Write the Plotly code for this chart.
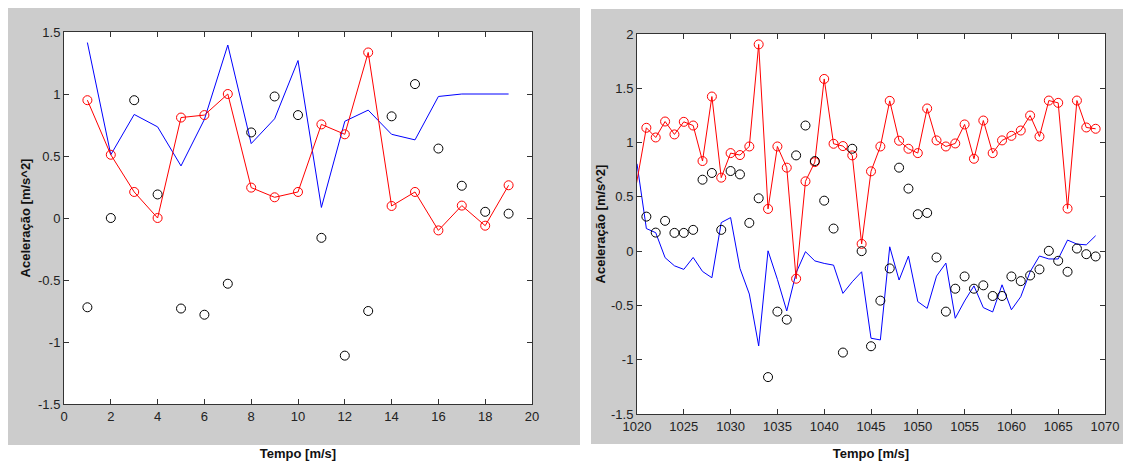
import plotly.graph_objects as go

# ---------------- data: left panel ----------------
t_left = list(range(1, 20))
black_left = [-0.72, 0.00, 0.95, 0.19, -0.73, -0.78, -0.53, 0.69, 0.98, 0.83,
              -0.16, -1.11, -0.75, 0.82, 1.08, 0.56, 0.26, 0.05, 0.035]
red_left = [0.95, 0.51, 0.21, 0.00, 0.81, 0.83, 1.00, 0.245, 0.167, 0.21,
            0.755, 0.675, 1.335, 0.097, 0.21, -0.10, 0.10, -0.062, 0.264]
blue_left = [1.415, 0.51, 0.835, 0.735, 0.42, 0.795, 1.395, 0.60, 0.80, 1.27,
             0.085, 0.78, 0.87, 0.675, 0.63, 0.98, 1.00, 1.00, 1.00]

# ---------------- data: right panel ----------------
t_right_black = list(range(1021, 1070))
black_right = [0.318, 0.171, 0.279, 0.168, 0.168, 0.196, 0.658, 0.72, 0.196, 0.738,
               0.707, 0.26, 0.487, -1.16, -0.557, -0.631, 0.882, 1.157, 0.83, 0.465,
               0.208, -0.934, 0.943, 0.0, -0.876, -0.456, -0.159, 0.769, 0.576, 0.34,
               0.352, -0.058, -0.557, -0.346, -0.233, -0.346, -0.315, -0.413, -0.413, -0.233,
               -0.276, -0.224, -0.168, 0.003, -0.089, -0.19, 0.024, -0.028, -0.049]
t_right_red = [1019] + list(range(1021, 1070))
red_right = [0.164,
             1.136, 1.047, 1.194, 1.075, 1.191, 1.157, 0.83, 1.424, 0.677, 0.903,
             0.885, 0.964, 1.904, 0.389, 0.964, 0.769, -0.254, 0.643, 0.82, 1.586,
             0.989, 0.968, 0.882, 0.067, 0.735, 0.964, 1.384, 1.017, 0.943, 0.903,
             1.314, 1.02, 0.964, 0.992, 1.167, 0.851, 1.203, 0.903, 1.02, 1.062,
             1.111, 1.249, 1.056, 1.387, 1.366, 0.392, 1.387, 1.139, 1.127]
t_right_blue = list(range(1020, 1070))
blue_right = [0.805, 0.208, 0.17, -0.06, -0.135, -0.168, -0.058, -0.187, -0.245, 0.263,
              0.309, -0.159, -0.395, -0.873, 0.003, -0.26, -0.551, -0.2, -0.005, -0.09,
              -0.113, -0.129, -0.389, -0.282, -0.19, -0.802, -0.818, 0.04, -0.266, -0.046,
              -0.465, -0.527, -0.23, -0.11, -0.618, -0.459, -0.32, -0.52, -0.56, -0.31,
              -0.54, -0.42, -0.19, -0.045, -0.072, -0.072, 0.102, 0.065, 0.058, 0.142]

# ---------------- ticks ----------------
y_left_ticks = [-1.5, -1, -0.5, 0, 0.5, 1, 1.5]
y_left_text = ["-1.5", "-1", "-0.5", "0", "0.5", "1", "1.5"]
x_left_ticks = [0, 2, 4, 6, 8, 10, 12, 14, 16, 18, 20]
x_left_text = [str(v) for v in x_left_ticks]
y_right_ticks = [-1.5, -1, -0.5, 0, 0.5, 1, 1.5, 2]
y_right_text = ["-1.5", "-1", "-0.5", "0", "0.5", "1", "1.5", "2"]
x_right_ticks = [1020, 1025, 1030, 1035, 1040, 1045, 1050, 1055, 1060, 1065, 1070]
x_right_text = [str(v) for v in x_right_ticks]

x_title = "Tempo [m/s]"
y_title = "Aceleração [m/s^2]"

# the page body has an 8px margin, so the figure starts at (8, 8) of the window
OX, OY = 8, 8
W, H = 1131 - OX, 463 - OY


def px(x):
    return (x - OX) / W


def py(y):
    return 1 - (y - OY) / H


fig = go.Figure()

marker_circle = dict(symbol="circle-open", size=9, line=dict(width=1))

# left
fig.add_trace(go.Scatter(x=t_left, y=blue_left, mode="lines",
                         line=dict(color="#0000ff", width=1), xaxis="x", yaxis="y"))
fig.add_trace(go.Scatter(x=t_left, y=red_left, mode="lines+markers",
                         line=dict(color="#ff0000", width=1),
                         marker=dict(color="#ff0000", **marker_circle), xaxis="x", yaxis="y"))
fig.add_trace(go.Scatter(x=t_left, y=black_left, mode="markers",
                         marker=dict(color="#000000", **marker_circle), xaxis="x", yaxis="y"))
# right
fig.add_trace(go.Scatter(x=t_right_blue, y=blue_right, mode="lines",
                         line=dict(color="#0000ff", width=1), xaxis="x2", yaxis="y2"))
fig.add_trace(go.Scatter(x=t_right_red, y=red_right, mode="lines+markers",
                         line=dict(color="#ff0000", width=1),
                         marker=dict(color="#ff0000", **marker_circle), xaxis="x2", yaxis="y2"))
fig.add_trace(go.Scatter(x=t_right_black, y=black_right, mode="markers",
                         marker=dict(color="#000000", **marker_circle), xaxis="x2", yaxis="y2"))

tickfont = dict(family="Liberation Sans, Arial, sans-serif", size=13, color="#222222")
titlefont = dict(family="Liberation Sans, Arial, sans-serif", size=13, color="#111111", weight="bold")

axis_common = dict(showline=True, linecolor="#333333", linewidth=1, mirror="ticks",
                   ticks="inside", ticklen=5, tickcolor="#333333", showgrid=False,
                   zeroline=False, tickfont=tickfont, automargin=False, fixedrange=True)

fig.update_layout(
    width=W, height=H,
    margin=dict(l=0, r=0, t=0, b=0),
    paper_bgcolor="white", plot_bgcolor="white",
    showlegend=False,
    xaxis=dict(domain=[px(64), px(532)], range=[0, 20], tickvals=x_left_ticks,
               ticktext=x_left_text, anchor="y",
               title=dict(text=x_title, font=titlefont, standoff=26), **axis_common),
    yaxis=dict(domain=[py(404), py(32)], range=[-1.5, 1.5], tickvals=y_left_ticks,
               ticktext=y_left_text, anchor="x",
               title=dict(text=y_title, font=titlefont, standoff=4), **axis_common),
    xaxis2=dict(domain=[px(637), px(1105)], range=[1020, 1070], tickvals=x_right_ticks,
                ticktext=x_right_text, anchor="y2",
                title=dict(text=x_title, font=titlefont, standoff=16), **axis_common),
    yaxis2=dict(domain=[py(414), py(34)], range=[-1.5, 2], tickvals=y_right_ticks,
                ticktext=y_right_text, anchor="x2",
                title=dict(text=y_title, font=titlefont, standoff=2), **axis_common),
    shapes=[
        dict(type="rect", xref="paper", yref="paper", x0=px(8), x1=px(580),
             y0=py(445), y1=py(8), fillcolor="#cccccc", line=dict(width=0), layer="below"),
        dict(type="rect", xref="paper", yref="paper", x0=px(591), x1=px(1131),
             y0=py(444), y1=py(9), fillcolor="#cccccc", line=dict(width=0), layer="below"),
        dict(type="rect", xref="x domain", yref="y domain", x0=0, x1=1, y0=0, y1=1,
             fillcolor="white", line=dict(width=0), layer="below"),
        dict(type="rect", xref="x2 domain", yref="y2 domain", x0=0, x1=1, y0=0, y1=1,
             fillcolor="white", line=dict(width=0), layer="below"),
    ],
)

fig.write_html("out.html")
